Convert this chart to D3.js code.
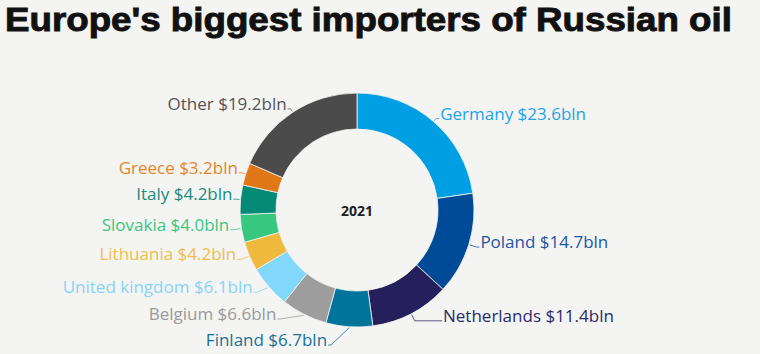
<!DOCTYPE html>
<html>
<head>
<meta charset="utf-8">
<script src="https://cdn.jsdelivr.net/npm/d3@7"></script>
<style>
  body { margin: 0; background: #f4f4f2; }
  svg { display: block; }
</style>
</head>
<body>
<div id="chart"></div>
<script>
const countries = ['Germany', 'Poland', 'Netherlands', 'Finland', 'Belgium', 'United kingdom',
    'Lithuania', 'Slovakia', 'Italy', 'Greece', 'Other'];
const imports = [23.6, 14.7, 11.4, 6.7, 6.6, 6.1, 4.2, 4.0, 4.2, 3.2, 19.2];
const sliceColors = ['#009fe3', '#004b97', '#251f5b', '#00749a', '#9d9d9d', '#82d7fd',
    '#efb93d', '#38c77f', '#068a78', '#e07818', '#4b4b4b'];
const labelColors = ['#1ea4e4', '#1d56a3', '#2d2a69', '#1b7199', '#9a9a9a', '#86d4f6',
    '#efbe4c', '#3bc67f', '#1a8a7c', '#e4852b', '#555555'];
const centerLabel = '2021';
const title = "Europe's biggest importers of Russian oil";

const w = 760;
const h = 354;
const cx = 357;
const cy = 210;
const outerR = 117;
const innerR = 81;
const lenTop = 4;
const lenBottom = 8;
const len2 = 3;
const gap = 26;
const maxY = 345;
const rightMin = 86;

const svg = d3.select('#chart')
    .append('svg')
    .attr('width', w)
    .attr('height', h);

svg.append('rect')
    .attr('width', w)
    .attr('height', h)
    .attr('fill', '#f4f4f2');

const titleText = svg.append('text')
    .attr('font-family', '"Liberation Sans", Arial, sans-serif')
    .attr('font-weight', 700)
    .attr('font-size', 33)
    .attr('fill', '#111')
    .attr('stroke', '#111')
    .attr('stroke-width', 0.9)
    .text(title);
// squeeze to the reference's width
const titleLen = titleText.node().getComputedTextLength();
titleText.attr('transform', `translate(5,30.5) scale(${727 / titleLen},1)`);

const data = countries.map((c, i) => ({ name: c, value: imports[i], color: sliceColors[i], labelColor: labelColors[i] }));

const pie = d3.pie().sort(null).value((d) => d.value);
const arcs = pie(data);

const arc = d3.arc().innerRadius(innerR).outerRadius(outerR);

const g = svg.append('g').attr('transform', `translate(${cx},${cy})`);

g.selectAll('path')
    .data(arcs)
    .enter()
    .append('path')
    .attr('d', arc)
    .attr('fill', (d) => d.data.color)
    .attr('stroke', '#f4f4f2')
    .attr('stroke-width', 0.8);

g.append('text')
    .attr('y', 6)
    .attr('text-anchor', 'middle')
    .attr('font-family', '"Open Sans", sans-serif')
    .attr('font-weight', 700)
    .attr('font-size', 14)
    .attr('fill', '#222')
    .text(centerLabel);

// label anchors at their natural spot, then spread vertically on each side
const labels = arcs.map((d) => {
    const a = (d.startAngle + d.endAngle) / 2;
    const len = Math.cos(a) > 0 ? lenTop : lenBottom;
    const r = outerR + len;
    return {
        d: d,
        a: a,
        right: Math.sin(a) >= 0,
        x: Math.sin(a) * r,
        y: -Math.cos(a) * r,
        y0: -Math.cos(a) * r
    };
});

function spread(side) {
    side.sort((p, q) => p.y - q.y);
    for (let i = 1; i < side.length; i++) {
        if (side[i].y - side[i - 1].y < gap) side[i].y = side[i - 1].y + gap;
    }
    const limit = maxY - cy;
    if (side.length && side[side.length - 1].y > limit) {
        side[side.length - 1].y = limit;
        for (let i = side.length - 2; i >= 0; i--) {
            if (side[i + 1].y - side[i].y < gap) side[i].y = side[i + 1].y - gap;
        }
    }
    // if a lower label moved, lay the whole lower half on an ellipse
    const rA = outerR + lenBottom;
    const lower = side.filter((p) => p.y > 0);
    if (lower.some((p) => Math.abs(p.y - p.y0) > 0.5)) {
        const rB = d3.max(lower, (p) => p.y) + 3;
        lower.forEach((p) => {
            const k = Math.sqrt(Math.max(0, 1 - (p.y * p.y) / (rB * rB)));
            p.x = (p.right ? 1 : -1) * rA * k;
        });
    }
}

spread(labels.filter((p) => p.right));
spread(labels.filter((p) => !p.right));

labels.forEach((p) => {
    const dir = p.right ? 1 : -1;
    p.tx = p.x + dir * (len2 + 1);
    if (p.right && p.y > 0) p.tx = Math.max(p.tx, rightMin);
});

const lineGen = d3.line();

g.selectAll('.leader')
    .data(labels)
    .enter()
    .append('path')
    .attr('class', 'leader')
    .attr('fill', 'none')
    .attr('stroke', (p) => p.d.data.labelColor)
    .attr('stroke-width', 0.8)
    .attr('d', (p) => {
        const dir = p.right ? 1 : -1;
        const x0 = Math.sin(p.a) * (outerR + 1);
        const y0 = -Math.cos(p.a) * (outerR + 1);
        return lineGen([[x0, y0], [p.x, p.y], [p.tx - dir, p.y]]);
    });

g.selectAll('.lbl')
    .data(labels)
    .enter()
    .append('text')
    .attr('class', 'lbl')
    .attr('x', (p) => p.tx)
    .attr('y', (p) => p.y + 1)
    .attr('text-anchor', (p) => p.right ? 'start' : 'end')
    .attr('font-family', '"Open Sans", sans-serif')
    .attr('font-size', 17)
    .attr('fill', (p) => p.d.data.labelColor)
    .text((p) => `${p.d.data.name} $${p.d.data.value.toFixed(1)}bln`);
</script>
</body>
</html>
